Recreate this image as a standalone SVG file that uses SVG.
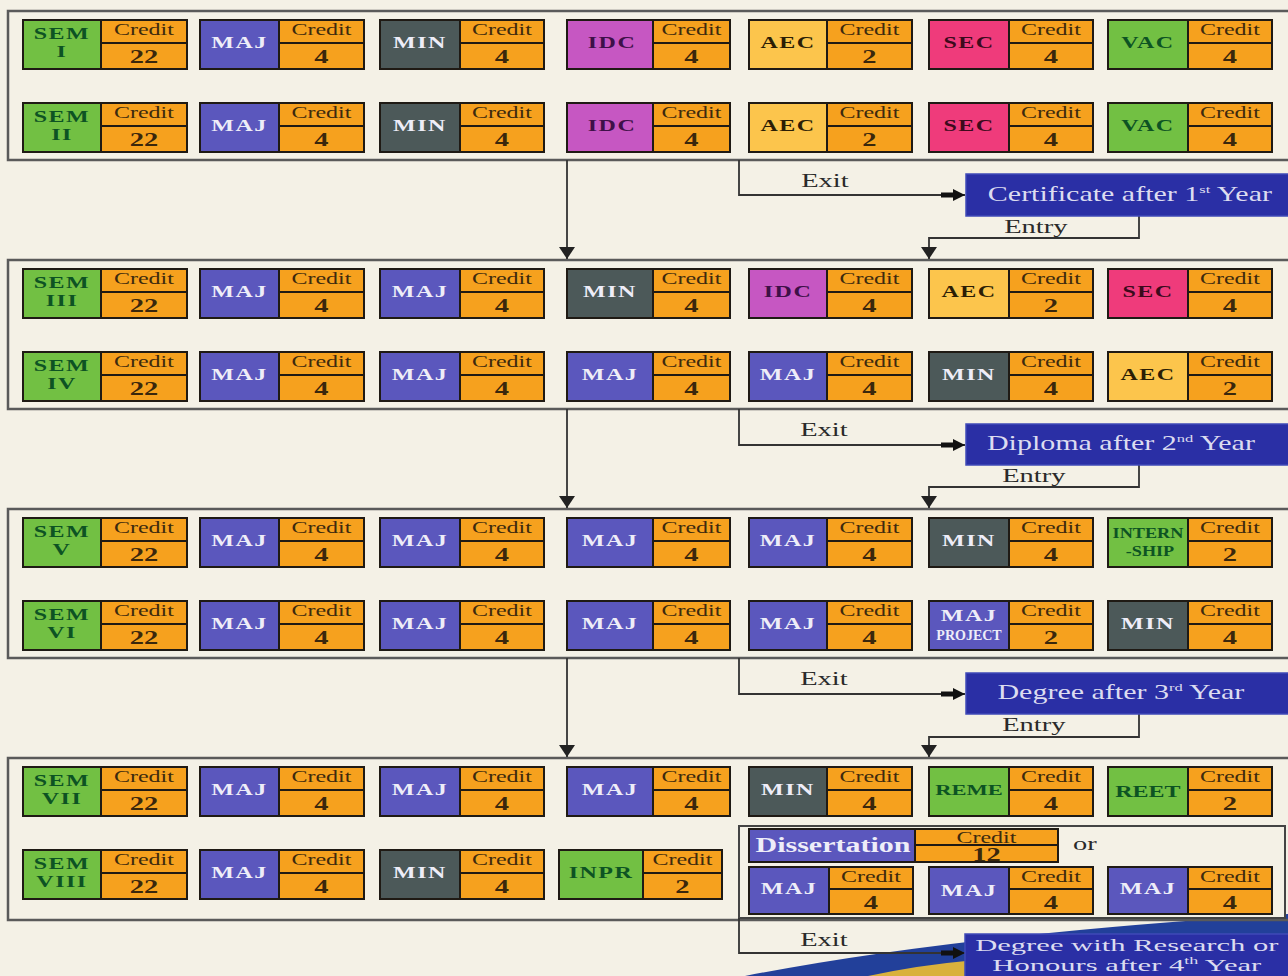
<svg xmlns="http://www.w3.org/2000/svg" width="1288" height="976" viewBox="0 0 1288 976">
<style>
.t{font-family:"Liberation Serif","Times New Roman",serif;text-anchor:middle}
.s{transform-box:fill-box;transform-origin:center;transform:scaleX(1.5)}
.m{transform-box:fill-box;transform-origin:center;transform:scaleX(1.3)}
.w{transform-box:fill-box;transform-origin:center;transform:scaleX(1.8)}
.L{font-size:16px;font-weight:bold;letter-spacing:1px}
.lk{fill:#0d5323}.lw{fill:#eeedf8}.lp{fill:#3e1048}.ly{fill:#2b1d05}.lr{fill:#3c0a1c}
.cr{font-size:16px;fill:#3d2a0e}
.vl{font-size:19px;font-weight:bold;fill:#3a270c}
.c{stroke:#1f1a14;stroke-width:2}
.dv{stroke:#1f1a14;stroke-width:2;fill:none}
.gr{fill:#72c043}.bl{fill:#5b57bd}.gy{fill:#4c5959}.mg{fill:#c657c2}.yl{fill:#fcc54c}.pk{fill:#ef3b7b}.or{fill:#f6a11e}
.sec{fill:none;stroke:#5a5a5a;stroke-width:2.5}
.ln{fill:none;stroke:#333;stroke-width:1.8}
.bx{fill:#2a2fa5;stroke:#3f4ab8;stroke-width:1.5}
.bt{font-size:20px;fill:#dcdcf0}
.bt2{font-size:17px;fill:#dcdcf0}
.lab{font-size:19px;fill:#2a2a2a}
</style>
<defs>
<marker id="dn" markerUnits="userSpaceOnUse" markerWidth="12" markerHeight="16" refX="12" refY="8" orient="auto">
<path d="M0,0 L12,8 L0,16 Z" fill="#222"/>
</marker>
<marker id="fat" markerUnits="userSpaceOnUse" markerWidth="24" markerHeight="12" refX="24" refY="6" orient="auto">
<path d="M0,3.5 H12 V0 L24,6 L12,12 V8.5 H0 Z" fill="#111"/>
</marker>
</defs>
<rect width="1288" height="976" fill="#f4f1e6"/>
<g id="swoosh">
<path d="M745,976 Q960,934 1288,914 V976 Z" fill="#22409a"/>
<path d="M868,976 Q920,965 966,961 V976 Z" fill="#d9b13c"/>
</g>
<g id="sections">
<rect class="sec" x="8" y="11" width="1300" height="149"/>
<rect class="sec" x="8" y="260" width="1300" height="149"/>
<rect class="sec" x="8" y="509" width="1300" height="149"/>
<rect class="sec" x="8" y="758" width="1300" height="162"/>
<rect id="option-box" x="739" y="826" width="546" height="92" fill="#f4f1e6" stroke="#444" stroke-width="2"/>
</g>

<!-- Section 1 row 1 -->
<g id="sem1" transform="translate(0,20)"><rect class="c gr" x="23" width="78" height="49"/><rect class="c or" x="101" width="86" height="49"/><path class="dv" d="M101 23H187"/><text class="t L lk s" x="62" y="19">SEM</text><text class="t L lk s" x="62" y="37">I</text><text class="t cr s" x="144" y="15">Credit</text><text class="t vl s" x="144" y="43">22</text></g>
<g id="sem1-maj" transform="translate(0,20)"><rect class="c bl" x="200" width="79" height="49"/><rect class="c or" x="279" width="85" height="49"/><path class="dv" d="M279 23H364"/><text class="t L lw s" x="239.5" y="28">MAJ</text><text class="t cr s" x="321.5" y="15">Credit</text><text class="t vl s" x="321.5" y="43">4</text></g>
<g id="sem1-min" transform="translate(0,20)"><rect class="c gy" x="380" width="80" height="49"/><rect class="c or" x="460" width="84" height="49"/><path class="dv" d="M460 23H544"/><text class="t L lw s" x="420" y="28">MIN</text><text class="t cr s" x="502" y="15">Credit</text><text class="t vl s" x="502" y="43">4</text></g>
<g id="sem1-idc" transform="translate(0,20)"><rect class="c mg" x="567" width="86" height="49"/><rect class="c or" x="653" width="77" height="49"/><path class="dv" d="M653 23H730"/><text class="t L lp s" x="612" y="28">IDC</text><text class="t cr s" x="691.5" y="15">Credit</text><text class="t vl s" x="691.5" y="43">4</text></g>
<g id="sem1-aec" transform="translate(0,20)"><rect class="c yl" x="749" width="78" height="49"/><rect class="c or" x="827" width="85" height="49"/><path class="dv" d="M827 23H912"/><text class="t L ly s" x="788" y="28">AEC</text><text class="t cr s" x="869.5" y="15">Credit</text><text class="t vl s" x="869.5" y="43">2</text></g>
<g id="sem1-sec" transform="translate(0,20)"><rect class="c pk" x="929" width="80" height="49"/><rect class="c or" x="1009" width="84" height="49"/><path class="dv" d="M1009 23H1093"/><text class="t L lr s" x="969" y="28">SEC</text><text class="t cr s" x="1051" y="15">Credit</text><text class="t vl s" x="1051" y="43">4</text></g>
<g id="sem1-vac" transform="translate(0,20)"><rect class="c gr" x="1108" width="80" height="49"/><rect class="c or" x="1188" width="84" height="49"/><path class="dv" d="M1188 23H1272"/><text class="t L lk s" x="1148" y="28">VAC</text><text class="t cr s" x="1230" y="15">Credit</text><text class="t vl s" x="1230" y="43">4</text></g>

<!-- Section 1 row 2 -->
<g id="sem2" transform="translate(0,103)"><rect class="c gr" x="23" width="78" height="49"/><rect class="c or" x="101" width="86" height="49"/><path class="dv" d="M101 23H187"/><text class="t L lk s" x="62" y="19">SEM</text><text class="t L lk s" x="62" y="37">II</text><text class="t cr s" x="144" y="15">Credit</text><text class="t vl s" x="144" y="43">22</text></g>
<g id="sem2-maj" transform="translate(0,103)"><rect class="c bl" x="200" width="79" height="49"/><rect class="c or" x="279" width="85" height="49"/><path class="dv" d="M279 23H364"/><text class="t L lw s" x="239.5" y="28">MAJ</text><text class="t cr s" x="321.5" y="15">Credit</text><text class="t vl s" x="321.5" y="43">4</text></g>
<g id="sem2-min" transform="translate(0,103)"><rect class="c gy" x="380" width="80" height="49"/><rect class="c or" x="460" width="84" height="49"/><path class="dv" d="M460 23H544"/><text class="t L lw s" x="420" y="28">MIN</text><text class="t cr s" x="502" y="15">Credit</text><text class="t vl s" x="502" y="43">4</text></g>
<g id="sem2-idc" transform="translate(0,103)"><rect class="c mg" x="567" width="86" height="49"/><rect class="c or" x="653" width="77" height="49"/><path class="dv" d="M653 23H730"/><text class="t L lp s" x="612" y="28">IDC</text><text class="t cr s" x="691.5" y="15">Credit</text><text class="t vl s" x="691.5" y="43">4</text></g>
<g id="sem2-aec" transform="translate(0,103)"><rect class="c yl" x="749" width="78" height="49"/><rect class="c or" x="827" width="85" height="49"/><path class="dv" d="M827 23H912"/><text class="t L ly s" x="788" y="28">AEC</text><text class="t cr s" x="869.5" y="15">Credit</text><text class="t vl s" x="869.5" y="43">2</text></g>
<g id="sem2-sec" transform="translate(0,103)"><rect class="c pk" x="929" width="80" height="49"/><rect class="c or" x="1009" width="84" height="49"/><path class="dv" d="M1009 23H1093"/><text class="t L lr s" x="969" y="28">SEC</text><text class="t cr s" x="1051" y="15">Credit</text><text class="t vl s" x="1051" y="43">4</text></g>
<g id="sem2-vac" transform="translate(0,103)"><rect class="c gr" x="1108" width="80" height="49"/><rect class="c or" x="1188" width="84" height="49"/><path class="dv" d="M1188 23H1272"/><text class="t L lk s" x="1148" y="28">VAC</text><text class="t cr s" x="1230" y="15">Credit</text><text class="t vl s" x="1230" y="43">4</text></g>

<!-- Section 2 row 1 -->
<g id="sem3" transform="translate(0,269)"><rect class="c gr" x="23" width="78" height="49"/><rect class="c or" x="101" width="86" height="49"/><path class="dv" d="M101 23H187"/><text class="t L lk s" x="62" y="19">SEM</text><text class="t L lk s" x="62" y="37">III</text><text class="t cr s" x="144" y="15">Credit</text><text class="t vl s" x="144" y="43">22</text></g>
<g id="sem3-maj1" transform="translate(0,269)"><rect class="c bl" x="200" width="79" height="49"/><rect class="c or" x="279" width="85" height="49"/><path class="dv" d="M279 23H364"/><text class="t L lw s" x="239.5" y="28">MAJ</text><text class="t cr s" x="321.5" y="15">Credit</text><text class="t vl s" x="321.5" y="43">4</text></g>
<g id="sem3-maj2" transform="translate(0,269)"><rect class="c bl" x="380" width="80" height="49"/><rect class="c or" x="460" width="84" height="49"/><path class="dv" d="M460 23H544"/><text class="t L lw s" x="420" y="28">MAJ</text><text class="t cr s" x="502" y="15">Credit</text><text class="t vl s" x="502" y="43">4</text></g>
<g id="sem3-min" transform="translate(0,269)"><rect class="c gy" x="567" width="86" height="49"/><rect class="c or" x="653" width="77" height="49"/><path class="dv" d="M653 23H730"/><text class="t L lw s" x="610" y="28">MIN</text><text class="t cr s" x="691.5" y="15">Credit</text><text class="t vl s" x="691.5" y="43">4</text></g>
<g id="sem3-idc" transform="translate(0,269)"><rect class="c mg" x="749" width="78" height="49"/><rect class="c or" x="827" width="85" height="49"/><path class="dv" d="M827 23H912"/><text class="t L lp s" x="788" y="28">IDC</text><text class="t cr s" x="869.5" y="15">Credit</text><text class="t vl s" x="869.5" y="43">4</text></g>
<g id="sem3-aec" transform="translate(0,269)"><rect class="c yl" x="929" width="80" height="49"/><rect class="c or" x="1009" width="84" height="49"/><path class="dv" d="M1009 23H1093"/><text class="t L ly s" x="969" y="28">AEC</text><text class="t cr s" x="1051" y="15">Credit</text><text class="t vl s" x="1051" y="43">2</text></g>
<g id="sem3-sec" transform="translate(0,269)"><rect class="c pk" x="1108" width="80" height="49"/><rect class="c or" x="1188" width="84" height="49"/><path class="dv" d="M1188 23H1272"/><text class="t L lr s" x="1148" y="28">SEC</text><text class="t cr s" x="1230" y="15">Credit</text><text class="t vl s" x="1230" y="43">4</text></g>

<!-- Section 2 row 2 -->
<g id="sem4" transform="translate(0,352)"><rect class="c gr" x="23" width="78" height="49"/><rect class="c or" x="101" width="86" height="49"/><path class="dv" d="M101 23H187"/><text class="t L lk s" x="62" y="19">SEM</text><text class="t L lk s" x="62" y="37">IV</text><text class="t cr s" x="144" y="15">Credit</text><text class="t vl s" x="144" y="43">22</text></g>
<g id="sem4-maj1" transform="translate(0,352)"><rect class="c bl" x="200" width="79" height="49"/><rect class="c or" x="279" width="85" height="49"/><path class="dv" d="M279 23H364"/><text class="t L lw s" x="239.5" y="28">MAJ</text><text class="t cr s" x="321.5" y="15">Credit</text><text class="t vl s" x="321.5" y="43">4</text></g>
<g id="sem4-maj2" transform="translate(0,352)"><rect class="c bl" x="380" width="80" height="49"/><rect class="c or" x="460" width="84" height="49"/><path class="dv" d="M460 23H544"/><text class="t L lw s" x="420" y="28">MAJ</text><text class="t cr s" x="502" y="15">Credit</text><text class="t vl s" x="502" y="43">4</text></g>
<g id="sem4-maj3" transform="translate(0,352)"><rect class="c bl" x="567" width="86" height="49"/><rect class="c or" x="653" width="77" height="49"/><path class="dv" d="M653 23H730"/><text class="t L lw s" x="610" y="28">MAJ</text><text class="t cr s" x="691.5" y="15">Credit</text><text class="t vl s" x="691.5" y="43">4</text></g>
<g id="sem4-maj4" transform="translate(0,352)"><rect class="c bl" x="749" width="78" height="49"/><rect class="c or" x="827" width="85" height="49"/><path class="dv" d="M827 23H912"/><text class="t L lw s" x="788" y="28">MAJ</text><text class="t cr s" x="869.5" y="15">Credit</text><text class="t vl s" x="869.5" y="43">4</text></g>
<g id="sem4-min" transform="translate(0,352)"><rect class="c gy" x="929" width="80" height="49"/><rect class="c or" x="1009" width="84" height="49"/><path class="dv" d="M1009 23H1093"/><text class="t L lw s" x="969" y="28">MIN</text><text class="t cr s" x="1051" y="15">Credit</text><text class="t vl s" x="1051" y="43">4</text></g>
<g id="sem4-aec" transform="translate(0,352)"><rect class="c yl" x="1108" width="80" height="49"/><rect class="c or" x="1188" width="84" height="49"/><path class="dv" d="M1188 23H1272"/><text class="t L ly s" x="1148" y="28">AEC</text><text class="t cr s" x="1230" y="15">Credit</text><text class="t vl s" x="1230" y="43">2</text></g>

<!-- Section 3 row 1 -->
<g id="sem5" transform="translate(0,518)"><rect class="c gr" x="23" width="78" height="49"/><rect class="c or" x="101" width="86" height="49"/><path class="dv" d="M101 23H187"/><text class="t L lk s" x="62" y="19">SEM</text><text class="t L lk s" x="62" y="37">V</text><text class="t cr s" x="144" y="15">Credit</text><text class="t vl s" x="144" y="43">22</text></g>
<g id="sem5-maj1" transform="translate(0,518)"><rect class="c bl" x="200" width="79" height="49"/><rect class="c or" x="279" width="85" height="49"/><path class="dv" d="M279 23H364"/><text class="t L lw s" x="239.5" y="28">MAJ</text><text class="t cr s" x="321.5" y="15">Credit</text><text class="t vl s" x="321.5" y="43">4</text></g>
<g id="sem5-maj2" transform="translate(0,518)"><rect class="c bl" x="380" width="80" height="49"/><rect class="c or" x="460" width="84" height="49"/><path class="dv" d="M460 23H544"/><text class="t L lw s" x="420" y="28">MAJ</text><text class="t cr s" x="502" y="15">Credit</text><text class="t vl s" x="502" y="43">4</text></g>
<g id="sem5-maj3" transform="translate(0,518)"><rect class="c bl" x="567" width="86" height="49"/><rect class="c or" x="653" width="77" height="49"/><path class="dv" d="M653 23H730"/><text class="t L lw s" x="610" y="28">MAJ</text><text class="t cr s" x="691.5" y="15">Credit</text><text class="t vl s" x="691.5" y="43">4</text></g>
<g id="sem5-maj4" transform="translate(0,518)"><rect class="c bl" x="749" width="78" height="49"/><rect class="c or" x="827" width="85" height="49"/><path class="dv" d="M827 23H912"/><text class="t L lw s" x="788" y="28">MAJ</text><text class="t cr s" x="869.5" y="15">Credit</text><text class="t vl s" x="869.5" y="43">4</text></g>
<g id="sem5-min" transform="translate(0,518)"><rect class="c gy" x="929" width="80" height="49"/><rect class="c or" x="1009" width="84" height="49"/><path class="dv" d="M1009 23H1093"/><text class="t L lw s" x="969" y="28">MIN</text><text class="t cr s" x="1051" y="15">Credit</text><text class="t vl s" x="1051" y="43">4</text></g>
<g id="sem5-internship" transform="translate(0,518)"><rect class="c gr" x="1108" width="80" height="49"/><rect class="c or" x="1188" width="84" height="49"/><path class="dv" d="M1188 23H1272"/><text class="t lk m" x="1148" y="20" font-size="14" font-weight="bold">INTERN</text><text class="t lk m" x="1150" y="38" font-size="14" font-weight="bold">-SHIP</text><text class="t cr s" x="1230" y="15">Credit</text><text class="t vl s" x="1230" y="43">2</text></g>

<!-- Section 3 row 2 -->
<g id="sem6" transform="translate(0,601)"><rect class="c gr" x="23" width="78" height="49"/><rect class="c or" x="101" width="86" height="49"/><path class="dv" d="M101 23H187"/><text class="t L lk s" x="62" y="19">SEM</text><text class="t L lk s" x="62" y="37">VI</text><text class="t cr s" x="144" y="15">Credit</text><text class="t vl s" x="144" y="43">22</text></g>
<g id="sem6-maj1" transform="translate(0,601)"><rect class="c bl" x="200" width="79" height="49"/><rect class="c or" x="279" width="85" height="49"/><path class="dv" d="M279 23H364"/><text class="t L lw s" x="239.5" y="28">MAJ</text><text class="t cr s" x="321.5" y="15">Credit</text><text class="t vl s" x="321.5" y="43">4</text></g>
<g id="sem6-maj2" transform="translate(0,601)"><rect class="c bl" x="380" width="80" height="49"/><rect class="c or" x="460" width="84" height="49"/><path class="dv" d="M460 23H544"/><text class="t L lw s" x="420" y="28">MAJ</text><text class="t cr s" x="502" y="15">Credit</text><text class="t vl s" x="502" y="43">4</text></g>
<g id="sem6-maj3" transform="translate(0,601)"><rect class="c bl" x="567" width="86" height="49"/><rect class="c or" x="653" width="77" height="49"/><path class="dv" d="M653 23H730"/><text class="t L lw s" x="610" y="28">MAJ</text><text class="t cr s" x="691.5" y="15">Credit</text><text class="t vl s" x="691.5" y="43">4</text></g>
<g id="sem6-maj4" transform="translate(0,601)"><rect class="c bl" x="749" width="78" height="49"/><rect class="c or" x="827" width="85" height="49"/><path class="dv" d="M827 23H912"/><text class="t L lw s" x="788" y="28">MAJ</text><text class="t cr s" x="869.5" y="15">Credit</text><text class="t vl s" x="869.5" y="43">4</text></g>
<g id="sem6-majproject" transform="translate(0,601)"><rect class="c bl" x="929" width="80" height="49"/><rect class="c or" x="1009" width="84" height="49"/><path class="dv" d="M1009 23H1093"/><text class="t L lw s" x="969" y="20">MAJ</text><text class="t lw" x="969" y="39" font-size="14" font-weight="bold">PROJECT</text><text class="t cr s" x="1051" y="15">Credit</text><text class="t vl s" x="1051" y="43">2</text></g>
<g id="sem6-min" transform="translate(0,601)"><rect class="c gy" x="1108" width="80" height="49"/><rect class="c or" x="1188" width="84" height="49"/><path class="dv" d="M1188 23H1272"/><text class="t L lw s" x="1148" y="28">MIN</text><text class="t cr s" x="1230" y="15">Credit</text><text class="t vl s" x="1230" y="43">4</text></g>

<!-- Section 4 row 1 -->
<g id="sem7" transform="translate(0,767)"><rect class="c gr" x="23" width="78" height="49"/><rect class="c or" x="101" width="86" height="49"/><path class="dv" d="M101 23H187"/><text class="t L lk s" x="62" y="19">SEM</text><text class="t L lk s" x="62" y="37">VII</text><text class="t cr s" x="144" y="15">Credit</text><text class="t vl s" x="144" y="43">22</text></g>
<g id="sem7-maj1" transform="translate(0,767)"><rect class="c bl" x="200" width="79" height="49"/><rect class="c or" x="279" width="85" height="49"/><path class="dv" d="M279 23H364"/><text class="t L lw s" x="239.5" y="28">MAJ</text><text class="t cr s" x="321.5" y="15">Credit</text><text class="t vl s" x="321.5" y="43">4</text></g>
<g id="sem7-maj2" transform="translate(0,767)"><rect class="c bl" x="380" width="80" height="49"/><rect class="c or" x="460" width="84" height="49"/><path class="dv" d="M460 23H544"/><text class="t L lw s" x="420" y="28">MAJ</text><text class="t cr s" x="502" y="15">Credit</text><text class="t vl s" x="502" y="43">4</text></g>
<g id="sem7-maj3" transform="translate(0,767)"><rect class="c bl" x="567" width="86" height="49"/><rect class="c or" x="653" width="77" height="49"/><path class="dv" d="M653 23H730"/><text class="t L lw s" x="610" y="28">MAJ</text><text class="t cr s" x="691.5" y="15">Credit</text><text class="t vl s" x="691.5" y="43">4</text></g>
<g id="sem7-min" transform="translate(0,767)"><rect class="c gy" x="749" width="78" height="49"/><rect class="c or" x="827" width="85" height="49"/><path class="dv" d="M827 23H912"/><text class="t L lw s" x="788" y="28">MIN</text><text class="t cr s" x="869.5" y="15">Credit</text><text class="t vl s" x="869.5" y="43">4</text></g>
<g id="sem7-reme" transform="translate(0,767)"><rect class="c gr" x="929" width="80" height="49"/><rect class="c or" x="1009" width="84" height="49"/><path class="dv" d="M1009 23H1093"/><text class="t lk s" x="969" y="28" font-size="15" font-weight="bold">REME</text><text class="t cr s" x="1051" y="15">Credit</text><text class="t vl s" x="1051" y="43">4</text></g>
<g id="sem7-reet" transform="translate(0,767)"><rect class="c gr" x="1108" width="80" height="49"/><rect class="c or" x="1188" width="84" height="49"/><path class="dv" d="M1188 23H1272"/><text class="t lk s" x="1148" y="30" font-size="16" font-weight="bold">REET</text><text class="t cr s" x="1230" y="15">Credit</text><text class="t vl s" x="1230" y="43">2</text></g>

<!-- Section 4 row 2 -->
<g id="sem8" transform="translate(0,850)"><rect class="c gr" x="23" width="78" height="49"/><rect class="c or" x="101" width="86" height="49"/><path class="dv" d="M101 23H187"/><text class="t L lk s" x="62" y="19">SEM</text><text class="t L lk s" x="62" y="37">VIII</text><text class="t cr s" x="144" y="15">Credit</text><text class="t vl s" x="144" y="43">22</text></g>
<g id="sem8-maj" transform="translate(0,850)"><rect class="c bl" x="200" width="79" height="49"/><rect class="c or" x="279" width="85" height="49"/><path class="dv" d="M279 23H364"/><text class="t L lw s" x="239.5" y="28">MAJ</text><text class="t cr s" x="321.5" y="15">Credit</text><text class="t vl s" x="321.5" y="43">4</text></g>
<g id="sem8-min" transform="translate(0,850)"><rect class="c gy" x="380" width="80" height="49"/><rect class="c or" x="460" width="84" height="49"/><path class="dv" d="M460 23H544"/><text class="t L lw s" x="420" y="28">MIN</text><text class="t cr s" x="502" y="15">Credit</text><text class="t vl s" x="502" y="43">4</text></g>
<g id="sem8-inpr" transform="translate(0,850)"><rect class="c gr" x="559" width="84" height="49"/><rect class="c or" x="643" width="79" height="49"/><path class="dv" d="M643 23H722"/><text class="t L lk s" x="601" y="28">INPR</text><text class="t cr s" x="682.5" y="15">Credit</text><text class="t vl s" x="682.5" y="43">2</text></g>

<!-- Option box -->
<g id="dissertation" transform="translate(0,829)"><rect class="c bl" x="749" width="166" height="33"/><rect class="c or" x="915" width="143" height="33"/><path class="dv" d="M915 16H1058"/><text class="t lw s" x="833" y="23" font-size="20" font-weight="bold">Dissertation</text><text class="t cr s" x="986.5" y="14">Credit</text><text class="t vl s" x="986.5" y="32">12</text></g>
<g id="or-label"><text class="t lab s" x="1085" y="850">or</text></g>
<g id="sem8-maj-a" transform="translate(0,867)"><rect class="c bl" x="749" width="80" height="47"/><rect class="c or" x="829" width="84" height="47"/><path class="dv" d="M829 22H913"/><text class="t L lw s" x="789" y="27">MAJ</text><text class="t cr s" x="871" y="15">Credit</text><text class="t vl s" x="871" y="42">4</text></g>
<g id="sem8-maj-b" transform="translate(0,867)"><rect class="c bl" x="929" width="80" height="47"/><rect class="c or" x="1009" width="84" height="47"/><path class="dv" d="M1009 22H1093"/><text class="t L lw s" x="969" y="29">MAJ</text><text class="t cr s" x="1051" y="15">Credit</text><text class="t vl s" x="1051" y="42">4</text></g>
<g id="sem8-maj-c" transform="translate(0,867)"><rect class="c bl" x="1108" width="80" height="47"/><rect class="c or" x="1188" width="84" height="47"/><path class="dv" d="M1188 22H1272"/><text class="t L lw s" x="1148" y="27">MAJ</text><text class="t cr s" x="1230" y="15">Credit</text><text class="t vl s" x="1230" y="42">4</text></g>

<!-- Connectors -->
<g id="connectors">
<path class="ln" d="M567,160 V259" marker-end="url(#dn)"/>
<path class="ln" d="M739,160 V195 H965" marker-end="url(#fat)"/>
<path class="ln" d="M1139,216 V238 H929 V259" marker-end="url(#dn)"/>
<path class="ln" d="M567,409 V508" marker-end="url(#dn)"/>
<path class="ln" d="M739,409 V445 H965" marker-end="url(#fat)"/>
<path class="ln" d="M1139,465 V487 H929 V508" marker-end="url(#dn)"/>
<path class="ln" d="M567,658 V757" marker-end="url(#dn)"/>
<path class="ln" d="M739,658 V694 H965" marker-end="url(#fat)"/>
<path class="ln" d="M1139,714 V737 H929 V757" marker-end="url(#dn)"/>
<path class="ln" d="M739,918 V953 H965" marker-end="url(#fat)"/>
<text class="t lab s" x="825" y="187">Exit</text>
<text class="t lab s" x="1036" y="233">Entry</text>
<text class="t lab s" x="824" y="436">Exit</text>
<text class="t lab s" x="1034" y="482">Entry</text>
<text class="t lab s" x="824" y="685">Exit</text>
<text class="t lab s" x="1034" y="731">Entry</text>
<text class="t lab s" x="824" y="946">Exit</text>
</g>

<!-- Outcome boxes -->
<g id="certificate"><rect class="bx" x="966" y="174" width="340" height="42"/><text class="t bt s" x="1130" y="201">Certificate after 1<tspan font-size="11" dy="-8">st</tspan><tspan dy="8"> Year</tspan></text></g>
<g id="diploma"><rect class="bx" x="966" y="424" width="340" height="41"/><text class="t bt s" x="1121" y="450">Diploma after 2<tspan font-size="11" dy="-8">nd</tspan><tspan dy="8"> Year</tspan></text></g>
<g id="degree"><rect class="bx" x="966" y="673" width="340" height="41"/><text class="t bt s" x="1121" y="699">Degree after 3<tspan font-size="11" dy="-8">rd</tspan><tspan dy="8"> Year</tspan></text></g>
<g id="honours"><rect class="bx" x="965" y="934" width="340" height="50"/><text class="t bt2 w" x="1127" y="951">Degree with Research or</text><text class="t bt2 w" x="1127" y="971">Honours after 4<tspan font-size="10" dy="-7">th</tspan><tspan dy="7"> Year</tspan></text></g>
</svg>
